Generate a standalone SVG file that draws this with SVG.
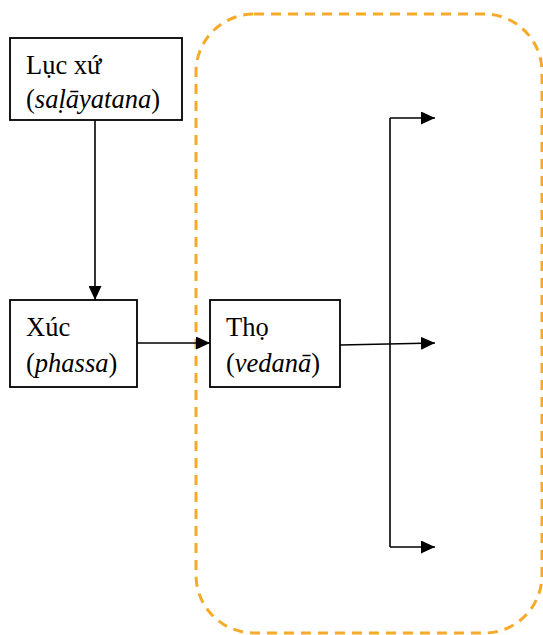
<svg xmlns="http://www.w3.org/2000/svg" width="543" height="635" viewBox="0 0 543 635">
<defs>
<style>
.box{fill:#fff;stroke:#000;stroke-width:1.8}
.t{font-family:"Liberation Serif",serif;font-size:26.5px;fill:#000}
.c{fill:none;stroke:#000;stroke-width:1.6}
</style>
<marker id="ah" viewBox="0 0 10 10" refX="10" refY="5" markerWidth="14" markerHeight="13" markerUnits="userSpaceOnUse" orient="auto" preserveAspectRatio="none"><path d="M0,0 L10,5 L0,10 Z" fill="#000"/></marker>
</defs>
<rect x="196" y="14" width="346" height="619" rx="58" ry="58" fill="none" stroke="#f7a928" stroke-width="3" stroke-dasharray="10,7"/>
<g id="connectors">
<path class="c" d="M95,120 V300" marker-end="url(#ah)"/>
<path class="c" d="M137,343 H210" marker-end="url(#ah)"/>
<path class="c" d="M340,345 L435,343" marker-end="url(#ah)"/>
<path class="c" d="M390,118 V547"/>
<path class="c" d="M390,118 H435" marker-end="url(#ah)"/>
<path class="c" d="M390,547 H435" marker-end="url(#ah)"/>
</g>
<g id="node-lucxu">
<rect class="box" x="10" y="38" width="172" height="82"/>
<text class="t" x="26" y="74">Lục xứ</text>
<text class="t" x="26" y="108">(<tspan font-style="italic">saḷāyatana</tspan>)</text>
</g>
<g id="node-xuc">
<rect class="box" x="10" y="300" width="127" height="87"/>
<text class="t" x="26" y="336">Xúc</text>
<text class="t" x="26" y="372">(<tspan font-style="italic">phassa</tspan>)</text>
</g>
<g id="node-tho">
<rect class="box" x="210" y="300" width="130" height="87"/>
<text class="t" x="226" y="336">Thọ</text>
<text class="t" x="226" y="372">(<tspan font-style="italic">vedanā</tspan>)</text>
</g>
</svg>
